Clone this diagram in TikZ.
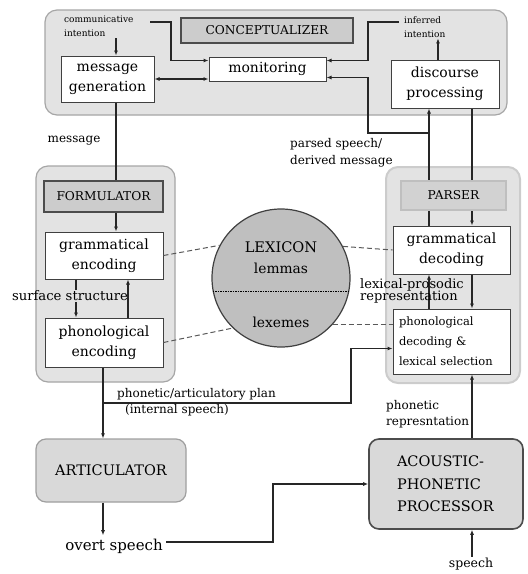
\documentclass[tikz,border=0pt]{standalone}
\usepackage{fontspec}
\setmainfont{DejaVu Serif}
\usetikzlibrary{arrows.meta}

\begin{document}
\begin{tikzpicture}[x=1pt, y=-1pt, >={Latex[length=5pt,width=4pt]},
	every node/.style={font=\fontsize{14}{20}\selectfont},
	outerbox/.style={draw=gray!70, line width=1.2pt, fill=gray!22, rounded corners=12pt},
	titlebox/.style={draw=black!70, line width=1.8pt, fill=gray!40, font=\fontsize{12.2}{14}\selectfont},
	procbox/.style={draw=black!75, line width=1pt, fill=white, align=center, inner sep=2pt},
	unitbox/.style={draw=gray!75, line width=1.2pt, fill=gray!30, rounded corners=10pt, font=\fontsize{14.5}{22.5}\selectfont},
	flow/.style={black!85, line width=1.1pt},
	lexlink/.style={gray!70!black, dash pattern=on 5pt off 3pt, line width=1pt},
	smalltext/.style={font=\fontsize{9}{14}\selectfont, align=left, inner sep=1pt},
	labeltext/.style={font=\fontsize{12}{16.5}\selectfont, align=left, inner sep=1pt}]
	\useasboundingbox (0,0) rectangle (528,574);
	% conceptualizer
	\node[outerbox, minimum width=462, minimum height=105] (concept) at (276,62.5) {};
	\node[titlebox, minimum width=172, minimum height=25] (concepttitle) at (267,30.5) {CONCEPTUALIZER};
	\node[procbox, minimum width=93, minimum height=46] (msggen) at (107.5,79) {message\\generation};
	\node[procbox, minimum width=117, minimum height=24] (monitor) at (267.5,69) {monitoring};
	\node[procbox, minimum width=108, minimum height=48] (discproc) at (445,84) {discourse\\processing};
	\node[smalltext, anchor=north west] (commint) at (63,15) {communicative\\intention};
	\node[smalltext, anchor=north west] (inferint) at (403,15) {inferred\\intention};
	\coordinate (msgx) at (116,0);
	\coordinate (upx) at (429,0);
	\coordinate (dnx) at (472,0);
	\coordinate (ciend) at (150,22);
	\coordinate (cibend) at (171,22);
	\coordinate (iiend) at (399,22);
	\coordinate (iibend) at (368,22);
	\coordinate (psplit) at (429,133);
	\coordinate (pbend) at (368,133);
	% formulator
	\node[outerbox, minimum width=139, minimum height=216] (formulator) at (105.5,274) {};
	\node[titlebox, minimum width=119, minimum height=31] (formtitle) at (103.5,196.5) {FORMULATOR};
	\node[procbox, minimum width=118, minimum height=47] (gramenc) at (104,255.5) {grammatical\\encoding};
	\node[procbox, minimum width=118, minimum height=49] (phonenc) at (104,342.5) {phonological\\encoding};
	\node[labeltext, font=\fontsize{13.2}{16}\selectfont] (surface) at (70,296) {surface structure};
	\coordinate (ssx) at (76,0);
	\coordinate (sux) at (128,0);
	% lexicon
	\node[circle, draw=black!75, line width=1.2pt, fill=gray!50, minimum size=138] (lexicon) at (281,278) {};
	\draw[densely dotted, line width=1.5pt] (lexicon.-169) -- (lexicon.-11);
	\node[font=\fontsize{14.6}{16}\selectfont] (lexname) at (281,247) {LEXICON};
	\node[font=\fontsize{13.8}{16}\selectfont] (lemmas) at (281,268) {lemmas};
	\node[font=\fontsize{13.8}{16}\selectfont] (lexemes) at (281,322) {lexemes};
	% parser
	\node[outerbox, draw=gray!40, line width=2pt, minimum width=134, minimum height=216] (parser) at (453,275) {};
	\node[procbox, minimum width=117, minimum height=48] (gramdec) at (451.5,250) {grammatical\\decoding};
	\node[procbox, align=left, minimum width=117, minimum height=65, text width=105, font=\fontsize{11.5}{20}\selectfont] (phondec) at (451.5,341.5) {phonological\\decoding \&\\lexical selection};
	\draw[flow, ->] (gramdec.north -| upx) -- (discproc.south -| upx);
	\draw[flow, ->] (discproc.south -| dnx) -- (gramdec.north -| dnx);
	\draw[flow, ->] (psplit) -- (pbend) |- ([yshift=4pt]monitor.south east);
	\node[titlebox, draw=gray!50, line width=1.5pt, fill=gray!35, minimum width=105, minimum height=29] (parsertitle) at (453.5,195.5) {PARSER};
	% top connectors
	\draw[flow, ->] (ciend) -- (cibend) |- ([yshift=-4pt]monitor.north west);
	\draw[flow, ->] (iiend) -- (iibend) |- ([yshift=-4pt]monitor.north east);
	\draw[flow, ->] (commint.south -| msgx) -- (msggen.north -| msgx);
	\draw[flow, ->] ([xshift=-7pt]discproc.north) -- ([xshift=-7pt]discproc.north |- inferint.south);
	\draw[flow, <->] (msggen.east) -- (msggen.east -| monitor.west);
	\draw[flow] (msggen.south -| msgx) -- (formtitle.north -| msgx);
	\node[labeltext] (msglabel) at (74,141) {message};
	\node[labeltext, anchor=west] (parsedlabel) at (289,153) {parsed speech/\\derived message};
	% formulator connectors
	\draw[flow, ->] (formtitle.south -| msgx) -- (gramenc.north -| msgx);
	\draw[flow] (gramenc.south -| ssx) -- (surface.north -| ssx);
	\draw[flow, ->] (surface.south -| ssx) -- (phonenc.north -| ssx);
	\draw[flow, ->] (phonenc.north -| sux) -- (gramenc.south -| sux);
	% lexicon links
	\draw[lexlink] (gramenc.east) -- (lexicon.152);
	\draw[lexlink] (lexicon.27) -- (gramdec.west);
	\draw[lexlink] (phonenc.east) -- (lexicon.-134);
	\draw[lexlink] (lexicon.-42) -- (lexicon.-42 -| phondec.west);
	% parser connectors
	\draw[flow, ->] (phondec.north -| upx) -- (gramdec.south -| upx);
	\draw[flow, ->] (gramdec.south -| dnx) -- (phondec.north -| dnx);
	\node[font=\fontsize{13}{12.5}\selectfont, align=left, inner sep=1pt] (lexpros) at (412,291) {lexical-prosodic\\representation};
	% articulator and acoustic-phonetic processor
	\node[unitbox, minimum width=150, minimum height=63] (artic) at (111,470.5) {ARTICULATOR};
	\node[unitbox, draw=black!70, line width=1.6pt, minimum width=154, minimum height=90, align=left, text width=98] (acoustic) at (446,484) {ACOUSTIC-\\PHONETIC\\PROCESSOR};
	\node[font=\fontsize{15}{17}\selectfont] (overt) at (114,546) {overt speech};
	\node[labeltext, font=\fontsize{12.5}{15}\selectfont] (speechin) at (471,564) {speech};
	\coordinate (plansplit) at (103,403);
	\coordinate (planbend) at (351,403);
	\coordinate (osbend) at (273,500);
	\draw[flow, ->] (phonenc.south -| plansplit) -- (artic.north -| plansplit);
	\draw[flow, ->] (plansplit) -- (planbend) |- ([yshift=-7pt]phondec.west);
	\node[labeltext, anchor=west] (planlabel) at (116,402) {phonetic/articulatory plan\\\hspace*{8pt}(internal speech)};
	\draw[flow, ->] (artic.south -| plansplit) -- (overt.north -| plansplit);
	\draw[flow, ->] ([yshift=4pt]overt.east) -| (osbend) |- (acoustic.west);
	\draw[flow, ->] (speechin.north -| dnx) -- (acoustic.south -| dnx);
	\draw[flow, ->] (acoustic.north -| dnx) -- (phondec.south -| dnx);
	\node[labeltext, anchor=west] (phonrep) at (385,414) {phonetic\\represntation};
\end{tikzpicture}
\end{document}
